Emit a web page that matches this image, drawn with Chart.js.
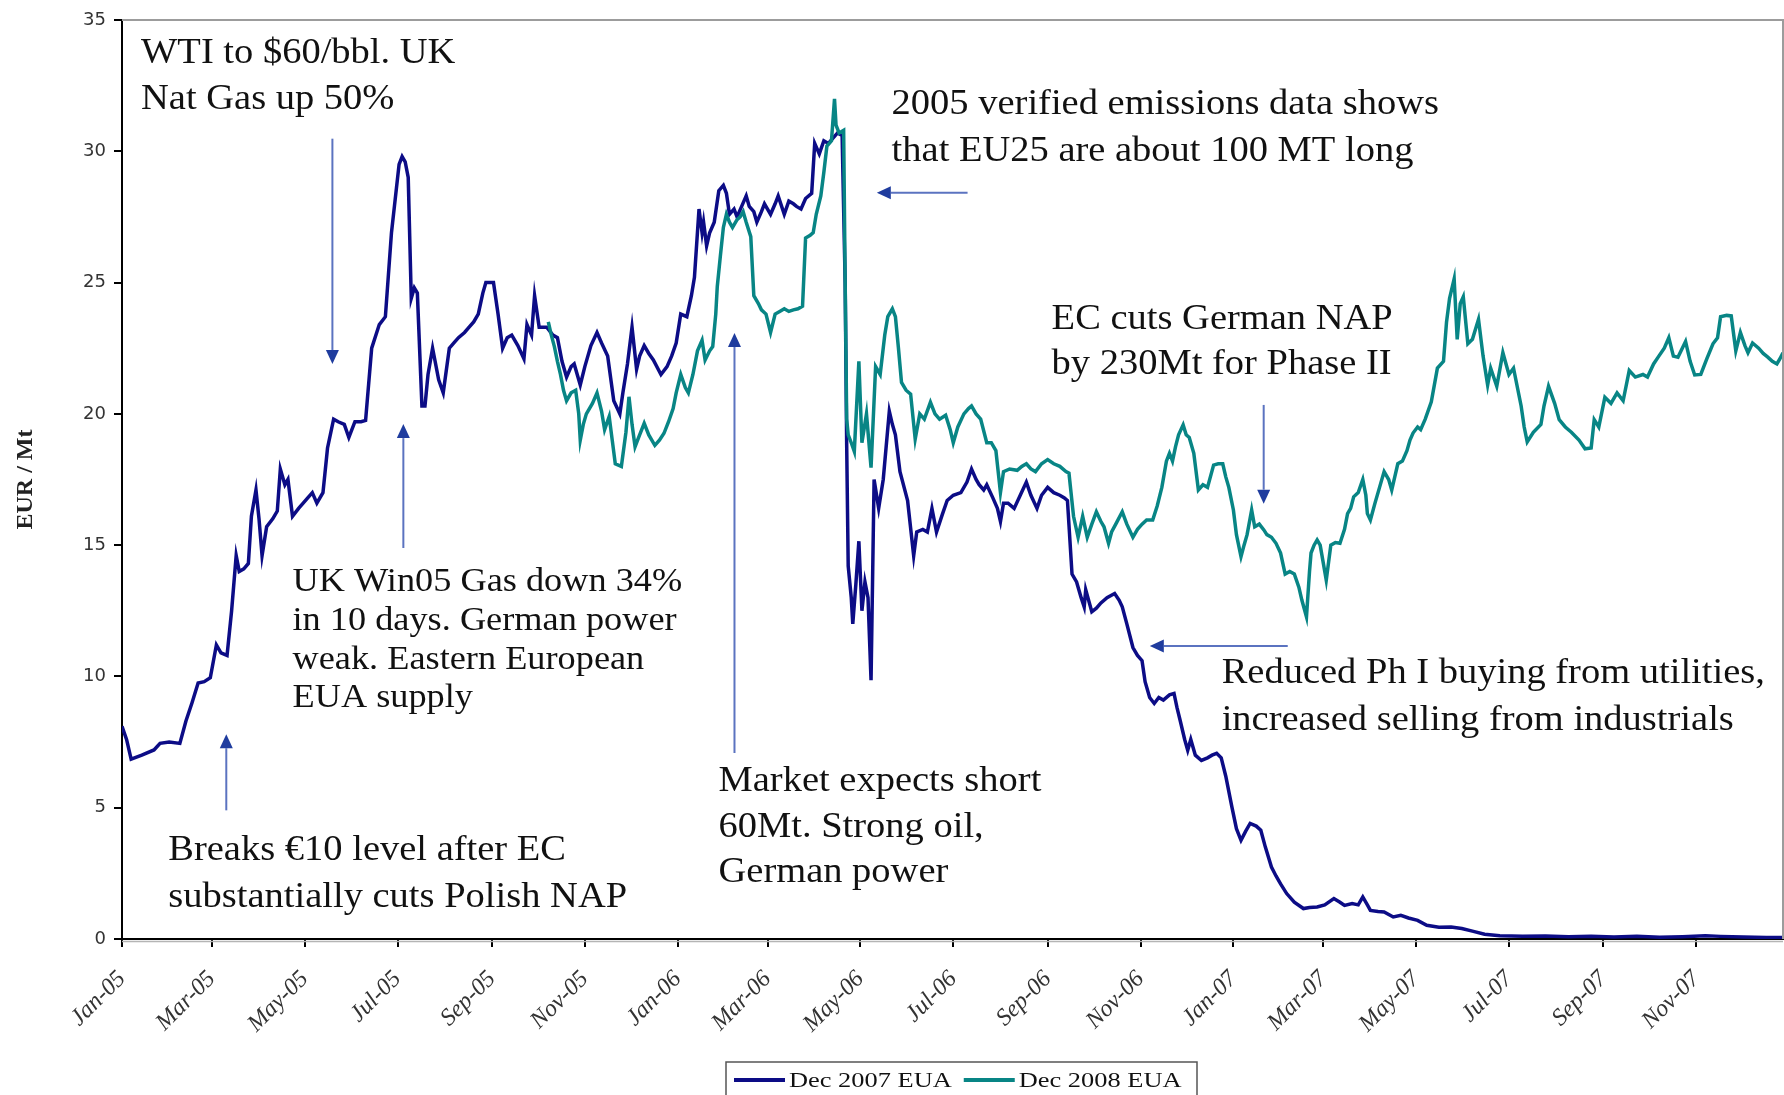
<!DOCTYPE html>
<html>
<head>
<meta charset="utf-8">
<script src="https://cdn.jsdelivr.net/npm/chart.js@4.4.1/dist/chart.umd.min.js"></script>
<style>
html,body{margin:0;padding:0;background:#fff;}
#wrap{width:1784px;height:1095px;position:relative;}
</style>
</head>
<body>
<div id="wrap"><canvas id="eua" width="1784" height="1095"></canvas></div>
<script>
// EUA forward prices, EUR / Mt. x = days since 1 Jan 2005
const tickLabels = ['Jan-05','Mar-05','May-05','Jul-05','Sep-05','Nov-05','Jan-06','Mar-06','May-06',
    'Jul-06','Sep-06','Nov-06','Jan-07','Mar-07','May-07','Jul-07','Sep-07','Nov-07'];
const seriesNames = ['Dec 2007 EUA', 'Dec 2008 EUA'];

const dec07Days = [0,3,6,13,21,25,31,38,42,46,50,54,58,62,65,69,72,75,77,80,83,85,88,90,92,95,99,102,104,107,109,112,116,119,122,125,128,132,135,139,142,146,149,153,157,160,164,169,173,177,182,184,186,188,190,192,194,197,199,201,204,208,211,215,218,221,225,228,231,234,237,239,244,247,250,253,256,260,264,266,269,271,274,279,283,286,289,292,295,297,301,304,308,312,315,319,323,327,329,332,335,338,340,343,346,349,354,358,361,364,367,371,374,376,379,381,382,384,386,389,392,395,397,399,402,404,407,410,412,415,417,420,422,424,426,429,431,435,438,441,443,446,449,453,455,458,461,464,467,470,473,475,476,477,479,480,482,484,486,488,490,492,494,497,500,504,506,508,511,516,520,522,526,529,532,535,539,542,546,551,555,558,561,563,566,568,572,575,577,579,582,586,590,594,597,601,604,608,612,616,619,621,624,627,630,632,633,637,640,643,647,652,655,657,660,664,667,670,672,675,678,681,684,688,691,693,695,698,700,702,705,709,713,716,719,722,725,729,732,735,738,741,745,748,751,755,758,761,765,770,776,780,785,790,796,800,803,808,812,815,818,820,825,829,835,840,845,851,857,865,873,880,887,895,905,920,935,950,965,980,995,1010,1025,1040,1050,1065,1080,1091];
const dec07Prices = [8.1,7.6,6.85,7.0,7.2,7.45,7.5,7.45,8.3,9.0,9.75,9.8,9.95,11.2,10.9,10.8,12.5,14.6,14.0,14.1,14.3,16.1,17.1,16.0,14.6,15.7,16.0,16.3,17.9,17.3,17.5,16.1,16.4,16.6,16.8,17.0,16.6,17.0,18.7,19.8,19.7,19.6,19.1,19.7,19.7,19.75,22.5,23.4,23.7,26.9,29.5,29.8,29.6,29.0,24.4,24.8,24.6,20.3,20.3,21.5,22.5,21.3,20.8,22.5,22.7,22.9,23.1,23.3,23.5,23.8,24.6,25.0,25.0,23.8,22.5,22.9,23.0,22.6,22.1,23.4,23.0,24.5,23.3,23.3,23.0,22.9,22.0,21.4,21.8,21.9,21.1,21.8,22.6,23.1,22.7,22.2,20.5,20.0,20.8,21.9,23.3,21.7,22.2,22.6,22.3,22.05,21.5,21.8,22.2,22.7,23.8,23.7,24.5,25.2,27.8,26.9,27.3,26.4,26.9,27.3,28.5,28.7,28.4,27.6,27.8,27.5,27.9,28.3,27.9,27.7,27.3,27.7,28.0,27.8,27.6,28.0,28.3,27.6,28.1,28.0,27.9,27.8,28.2,28.4,30.3,29.9,30.4,30.3,30.5,30.7,30.6,25.0,18.8,14.2,13.0,12.0,13.5,15.15,12.5,13.6,13.0,9.86,17.5,16.4,17.5,20.1,19.6,19.2,17.8,16.7,14.6,15.5,15.6,15.5,16.4,15.5,16.2,16.7,16.9,17.0,17.4,17.9,17.5,17.3,17.1,17.3,16.8,16.4,15.9,16.6,16.6,16.4,16.9,17.4,16.9,16.4,16.9,17.2,17.0,16.9,16.8,16.7,13.9,13.6,13.0,12.65,13.3,12.46,12.6,12.8,13.0,13.16,12.9,12.65,12.0,11.1,10.8,10.6,9.8,9.2,8.97,9.2,9.1,9.3,9.35,8.8,8.33,7.6,7.19,7.6,7.0,6.8,6.9,7.0,7.07,6.9,6.2,5.03,4.2,3.76,4.1,4.4,4.3,4.14,3.5,2.74,2.4,2.1,1.73,1.4,1.16,1.2,1.22,1.3,1.54,1.4,1.28,1.35,1.3,1.6,1.3,1.09,1.05,1.03,0.84,0.9,0.8,0.71,0.52,0.45,0.46,0.4,0.3,0.18,0.12,0.1,0.11,0.09,0.1,0.08,0.1,0.07,0.09,0.12,0.1,0.08,0.06,0.06];

const dec08Days = [280,282,284,286,288,290,292,295,298,300,301,303,305,309,312,315,317,320,322,324,328,331,333,335,337,340,343,346,350,353,356,359,362,364,367,370,372,375,378,381,383,386,388,390,391,393,395,397,399,401,404,406,408,410,413,415,418,420,423,426,429,432,435,438,441,444,447,449,452,454,456,459,461,463,466,468,469,471,474,475,476,477,479,481,484,486,489,492,495,498,501,503,506,508,510,512,515,518,521,524,527,531,534,537,541,544,546,549,553,556,558,561,564,568,571,574,577,579,583,588,591,594,597,600,604,608,612,616,620,622,625,628,631,634,637,640,643,645,648,650,653,657,660,664,667,670,673,677,680,683,686,688,690,692,694,697,699,701,704,707,710,713,717,720,723,725,727,730,732,735,737,739,742,744,747,750,752,755,758,761,764,767,770,773,775,778,780,781,783,785,787,791,794,797,800,803,805,807,809,812,815,817,818,820,823,826,829,832,834,836,838,841,844,846,848,851,853,856,860,864,868,870,872,875,877,879,881,884,887,891,894,897,899,903,907,911,914,919,921,923,927,932,934,937,941,944,948,952,957,961,965,967,970,974,978,982,986,990,994,999,1002,1006,1009,1013,1016,1019,1022,1027,1030,1033,1037,1041,1045,1048,1050,1054,1057,1060,1063,1066,1068,1071,1075,1078,1081,1084,1087,1089,1091];
const dec08Prices = [23.5,23.0,22.56,22.0,21.5,20.9,20.5,20.8,20.9,20.0,19.0,19.6,20.0,20.4,20.8,20.1,19.4,19.9,19.0,18.1,18.0,19.3,20.65,19.6,18.75,19.2,19.64,19.2,18.8,19.0,19.26,19.7,20.2,20.8,21.5,21.0,20.8,21.5,22.4,22.8,22.05,22.4,22.56,23.8,24.85,26.0,27.1,27.6,27.3,27.1,27.4,27.5,27.7,27.3,26.75,24.5,24.2,23.96,23.8,23.1,23.8,23.9,24.0,23.9,23.96,24.0,24.1,26.7,26.8,26.9,27.6,28.3,29.2,30.2,30.4,32.0,31.0,30.7,30.8,25.0,19.8,19.2,18.9,18.57,22.0,18.9,20.0,17.95,21.8,21.5,23.0,23.7,24.0,23.7,22.5,21.2,20.9,20.75,19.04,20.0,19.8,20.44,20.0,19.8,19.95,19.4,18.9,19.5,20.0,20.2,20.3,20.0,19.8,18.9,18.9,18.6,17.0,17.8,17.9,17.85,18.0,18.1,17.9,17.8,18.1,18.26,18.1,18.0,17.8,17.74,16.1,15.3,16.1,15.3,15.8,16.27,15.9,15.7,15.07,15.5,15.83,16.27,15.8,15.3,15.6,15.8,15.96,15.96,16.5,17.2,18.2,18.5,18.2,18.75,19.2,19.58,19.2,19.1,18.5,17.1,17.3,17.2,18.05,18.1,18.1,17.6,17.2,16.34,15.4,14.56,15.0,15.4,16.34,15.7,15.8,15.58,15.4,15.3,15.07,14.7,13.9,14.0,13.9,13.4,12.9,12.27,14.0,14.7,15.0,15.2,15.0,13.67,15.0,15.1,15.07,15.6,16.2,16.4,16.84,17.0,17.5,16.9,16.2,15.96,16.6,17.2,17.8,17.5,17.1,17.6,18.1,18.2,18.6,19.0,19.27,19.5,19.4,19.8,20.46,21.74,22.0,23.5,24.4,25.14,22.84,24.2,24.46,22.67,22.84,23.6,22.2,21.1,21.74,21.05,22.33,21.5,21.74,20.3,19.5,18.93,19.3,19.6,20.3,21.05,20.4,19.78,19.5,19.3,19.0,18.67,18.7,19.78,19.5,20.63,20.4,20.8,20.5,21.65,21.4,21.5,21.4,21.9,22.16,22.5,22.9,22.2,22.16,22.76,22.0,21.48,21.5,22.1,22.67,22.9,23.7,23.75,23.73,22.4,23.1,22.6,22.33,22.7,22.5,22.3,22.16,22.0,21.9,22.1,22.33];

const monthIdx = {Jan:0,Feb:1,Mar:2,Apr:3,May:4,Jun:5,Jul:6,Aug:7,Sep:8,Oct:9,Nov:10,Dec:11};
const tickDays = tickLabels.map(function(l){
    let p = l.split('-');
    return Math.round((Date.UTC(2000 + parseInt(p[1], 10), monthIdx[p[0]], 1) - Date.UTC(2005, 0, 1)) / 864e5);
});

// annotation texts, anchored in data units (day, EUR)
const notes = [
    {day: 12.5, val: 33.7, size: 35, lh: 45.5, lines: ['WTI to $60/bbl. UK', 'Nat Gas up 50%']},
    {day: 505.5, val: 31.77, size: 35, lh: 47, lines: ['2005 verified emissions data shows', 'that EU25 are about 100 MT long']},
    {day: 610.6, val: 23.58, size: 35, lh: 45, lines: ['EC cuts German NAP', 'by 230Mt for Phase II']},
    {day: 112, val: 13.57, size: 33, lh: 38.7, lines: ['UK Win05 Gas down 34%', 'in 10 days. German power', 'weak. Eastern European', 'EUA supply']},
    {day: 30.4, val: 3.34, size: 35, lh: 47, lines: ['Breaks €10 level after EC', 'substantially cuts Polish NAP']},
    {day: 391.8, val: 5.97, size: 35, lh: 45.5, lines: ['Market expects short', '60Mt. Strong oil,', 'German power']},
    {day: 722.3, val: 10.09, size: 35, lh: 46.5, lines: ['Reduced Ph I buying from utilities,', 'increased selling from industrials']}
];
// arrows: tail -> head
const arrows = [
    [138.2, 30.48, 138.2, 21.9],
    [184.8, 14.89, 184.8, 19.61],
    [68.5, 4.9, 68.5, 7.8],
    [402.3, 7.08, 402.3, 23.08],
    [555.4, 28.42, 495.8, 28.42],
    [749.9, 20.34, 749.9, 16.58],
    [765.7, 11.16, 675.1, 11.16]
];

function drawArrow(ctx, x1, y1, x2, y2){
    let a = Math.atan2(y2 - y1, x2 - x1);
    let hl = 14, hw = 6.5;
    let bx = x2 - hl * Math.cos(a), by = y2 - hl * Math.sin(a);
    ctx.strokeStyle = '#5b73c0';
    ctx.lineWidth = 2;
    ctx.beginPath(); ctx.moveTo(x1, y1); ctx.lineTo(bx, by); ctx.stroke();
    ctx.fillStyle = '#1f3c9e';
    ctx.beginPath();
    ctx.moveTo(x2, y2);
    ctx.lineTo(bx - hw * Math.sin(a), by + hw * Math.cos(a));
    ctx.lineTo(bx + hw * Math.sin(a), by - hw * Math.cos(a));
    ctx.closePath(); ctx.fill();
}

function stretchText(ctx, txt, x, y, sx){
    ctx.save();
    ctx.translate(x, y);
    ctx.scale(sx, 1);
    ctx.fillText(txt, 0, 0);
    ctx.restore();
    return ctx.measureText(txt).width * sx;
}

const extras = {
    id: 'extras',
    afterDatasetsDraw(chart){
        const ctx = chart.ctx, ca = chart.chartArea;
        const xs = chart.scales.x, ys = chart.scales.y;
        ctx.save();
        // grey frame on top and right
        ctx.strokeStyle = '#9c9c9c';
        ctx.lineWidth = 2;
        ctx.beginPath();
        ctx.moveTo(ca.left, ca.top); ctx.lineTo(ca.right, ca.top); ctx.lineTo(ca.right, ca.bottom);
        ctx.stroke();
        ctx.strokeStyle = '#b5b5b5';
        ctx.lineWidth = 1.5;
        ctx.beginPath(); ctx.moveTo(ca.left, ca.bottom + 2.5); ctx.lineTo(ca.right, ca.bottom + 2.5); ctx.stroke();

        // notes
        ctx.fillStyle = '#111';
        ctx.textBaseline = 'middle';
        ctx.textAlign = 'left';
        notes.forEach(function(n){
            ctx.font = n.size + 'px "Liberation Serif", serif';
            let x = xs.getPixelForValue(n.day), y = ys.getPixelForValue(n.val);
            n.lines.forEach(function(l, i){ stretchText(ctx, l, x, y + i * n.lh, 1.1); });
        });
        arrows.forEach(function(a){
            drawArrow(ctx, xs.getPixelForValue(a[0]), ys.getPixelForValue(a[1]),
                xs.getPixelForValue(a[2]), ys.getPixelForValue(a[3]));
        });

        // legend box
        let lx = 726, ly = 1062;
        ctx.strokeStyle = '#555';
        ctx.lineWidth = 1.5;
        ctx.strokeRect(lx, ly, 471, 50);
        ctx.font = '22px "Liberation Serif", serif';
        let cx = lx + 8, cy = ly + 18;
        chart.data.datasets.forEach(function(ds){
            ctx.strokeStyle = ds.borderColor;
            ctx.lineWidth = 4;
            ctx.beginPath(); ctx.moveTo(cx, cy); ctx.lineTo(cx + 51, cy); ctx.stroke();
            ctx.fillStyle = '#111';
            let w = stretchText(ctx, ds.label, cx + 55, cy + 1, 1.2);
            cx += 55 + w + 12;
        });
        ctx.restore();
    }
};

new Chart(document.getElementById('eua'), {
    type: 'line',
    data: {
        datasets: [
            {
                label: seriesNames[0],
                data: dec07Days.map((d, i) => ({x: d, y: dec07Prices[i]})),
                borderColor: '#0c0c86',
                borderWidth: 3.5,
                pointRadius: 0,
                tension: 0,
                order: 1,
            },
            {
                label: seriesNames[1],
                data: dec08Days.map((d, i) => ({x: d, y: dec08Prices[i]})),
                borderColor: '#088585',
                borderWidth: 3.5,
                pointRadius: 0,
                tension: 0,
                order: 0,
            }]
    },
    options: {
        responsive: false,
        devicePixelRatio: 1,
        animation: false,
        layout: {padding: {left: 0, top: 20, right: 1, bottom: 0}},
        scales: {
            x: {
                type: 'linear',
                min: 0,
                max: 1091,
                afterBuildTicks: s => { s.ticks = tickDays.map(v => ({value: v})); },
                afterFit: s => { s.height = 156; },
                ticks: {
                    autoSkip: false,
                    minRotation: 45,
                    maxRotation: 45,
                    padding: 18,
                    color: '#333',
                    font: {family: '"Liberation Serif", serif', style: 'italic', size: 24},
                    callback: (v, i) => tickLabels[i],
                },
                grid: {drawOnChartArea: false, drawTicks: true, tickLength: 8, color: '#000', lineWidth: 2},
                border: {display: true, color: '#000', width: 2},
            },
            y: {
                min: 0,
                max: 35,
                afterFit: s => { s.width = 122; },
                ticks: {
                    stepSize: 5,
                    padding: 8,
                    color: '#333',
                    font: {family: '"DejaVu Sans", sans-serif', size: 18},
                },
                grid: {drawOnChartArea: false, drawTicks: true, tickLength: 8, color: '#000', lineWidth: 2},
                border: {display: true, color: '#000', width: 2},
                title: {
                    display: true,
                    text: 'EUR / Mt',
                    color: '#222',
                    font: {family: '"Liberation Serif", serif', weight: 'bold', size: 24},
                    padding: {top: 11, bottom: 0},
                },
            },
        },
        plugins: {
            legend: {display: false},
            tooltip: {enabled: false},
        }
    },
    plugins: [extras]
});
</script>
</body>
</html>
